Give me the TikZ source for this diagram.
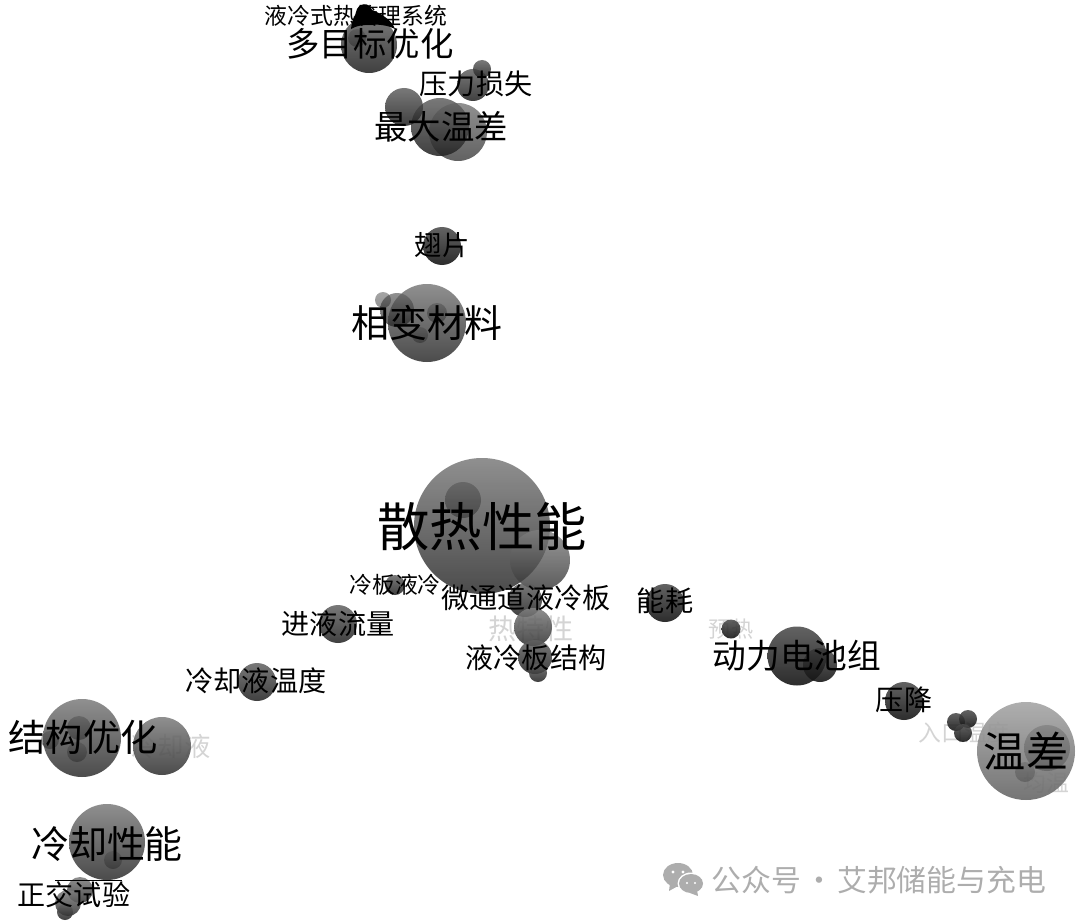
\documentclass[tikz,border=0pt]{standalone}
\usepackage{fontspec}
\newfontfamily\cjk{Noto Sans CJK SC}
\usepackage{tikz,pgf}
\tikzset{
	bubblelight/.style={circle,inner sep=0pt,top color=black!50,bottom color=black!80,opacity=.88},
	bubblemid/.style={circle,inner sep=0pt,top color=black!62,bottom color=black!88,opacity=.85},
	bubbledark/.style={circle,inner sep=0pt,top color=black!70,bottom color=black!94,opacity=.88},
	bubbleinner/.style={circle,inner sep=0pt,top color=black!70,bottom color=black!85,opacity=.5},
	termtext/.style={inner sep=0pt,font=\cjk\fontsize{#1}{#1}\selectfont,text=black},
	faintterm/.style={inner sep=0pt,font=\cjk\fontsize{#1}{#1}\selectfont,text=black!17}
}
\begin{document}
\begin{tikzpicture}
	\useasboundingbox (0,0) rectangle (10.8,9.23);
	% faint terms sit under the bubbles
	\node (ttherm) [faintterm=8] at (5.31,2.94) {热特性};
	\node (tpre)   [faintterm=6.3] at (7.31,2.94) {预热};
	\node (tin)    [faintterm=6.5] at (9.64,1.90) {入口温度};
	\node (tuni)   [faintterm=6.5] at (10.46,1.40) {均温};
	\node (tliq)   [faintterm=7.5] at (1.71,1.77) {冷却液};
	% top group
	\node (multi) [bubblemid,minimum size=.56cm] at (3.69,8.78) {};
	\node (multi2)[bubbleinner,minimum size=.18cm] at (3.57,8.85) {};
	\fill [black] (3.51,8.94) .. controls (3.52,9.05) and (3.56,9.08) .. (3.56,9.11) .. controls (3.58,9.21) and (3.70,9.21) .. (3.72,9.13) .. controls (3.80,9.10) and (3.92,9.03) .. (3.95,8.94) .. controls (3.85,9.00) and (3.60,9.00) .. (3.51,8.94) -- cycle;
	\node (loss2) [bubblemid,minimum size=.32cm] at (4.73,8.38) {};
	\node (loss1) [bubblemid,minimum size=.18cm] at (4.82,8.54) {};
	\node (maxa)  [bubblemid,minimum size=.58cm] at (4.40,7.96) {};
	\node (maxb)  [bubblemid,opacity=.7,minimum size=.58cm] at (4.58,7.91) {};
	\node (maxc)  [bubblemid,minimum size=.38cm] at (4.04,8.16) {};
	\node (fin)   [bubbledark,minimum size=.38cm] at (4.42,6.77) {};
	\node (pcm)   [bubblelight,minimum size=.78cm] at (4.27,6.00) {};
	\node (pcm2)  [bubblemid,opacity=.7,minimum size=.34cm] at (3.97,6.13) {};
	\node (pcm3)  [bubbleinner,minimum size=.16cm] at (3.83,6.23) {};
	\node (pcm4)  [bubbleinner,minimum size=.20cm] at (4.37,6.10) {};
	\node (pcm5)  [bubbleinner,minimum size=.16cm] at (4.20,5.88) {};
	% middle group
	\node (heat)  [bubblelight,minimum size=1.36cm] at (4.82,3.97) {};
	\node (heat2) [bubbleinner,minimum size=.36cm] at (4.63,4.23) {};
	\node (heat3) [bubblelight,opacity=.8,minimum size=.60cm] at (5.40,3.63) {};
	\node (micro) [bubblemid,minimum size=.34cm] at (5.25,3.23) {};
	\node (therm) [bubblelight,minimum size=.38cm] at (5.33,2.96) {};
	\node (plate) [bubblemid,minimum size=.34cm] at (5.35,2.66) {};
	\node (plate2)[bubblemid,minimum size=.18cm] at (5.38,2.50) {};
	\node (cold)  [bubblemid,minimum size=.20cm] at (3.95,3.38) {};
	\node (flow)  [bubblemid,minimum size=.38cm] at (3.38,2.99) {};
	\node (tcool) [bubblemid,minimum size=.38cm] at (2.57,2.41) {};
	% left group
	\node (opt)   [bubblelight,minimum size=.78cm] at (.82,1.85) {};
	\node (opt2)  [bubbleinner,minimum size=.24cm] at (.79,1.95) {};
	\node (opt3)  [bubbleinner,minimum size=.20cm] at (.77,1.71) {};
	\node (opt4)  [bubbleinner,minimum size=.18cm] at (.50,1.83) {};
	\node (liq)   [bubblelight,minimum size=.58cm] at (1.62,1.77) {};
	\node (perf)  [bubblelight,minimum size=.76cm] at (1.07,.81) {};
	\node (perf2) [bubbleinner,minimum size=.18cm] at (1.13,.63) {};
	\node (orth1) [bubblelight,minimum size=.26cm] at (.80,.33) {};
	\node (orth2) [bubblelight,minimum size=.26cm] at (.68,.20) {};
	\node (orth3) [bubblemid,minimum size=.16cm] at (.65,.11) {};
	% right group
	\node (energy)[bubbledark,minimum size=.38cm] at (6.65,3.20) {};
	\node (pre)   [bubbledark,minimum size=.19cm] at (7.31,2.94) {};
	\node (pack2) [bubbledark,minimum size=.34cm] at (8.20,2.58) {};
	\node (pack)  [bubbledark,minimum size=.59cm] at (7.97,2.67) {};
	\node (drop)  [bubbledark,minimum size=.38cm] at (9.04,2.22) {};
	\node (in1)   [bubbledark,minimum size=.18cm] at (9.56,2.01) {};
	\node (in2)   [bubbledark,minimum size=.18cm] at (9.68,2.04) {};
	\node (in3)   [bubbledark,minimum size=.18cm] at (9.63,1.90) {};
	\node (diff)  [circle,inner sep=0pt,top color=black!35,bottom color=black!60,opacity=.9,minimum size=.98cm] at (10.26,1.72) {};
	\node (diff2) [bubbleinner,opacity=.3,minimum size=.46cm] at (10.47,1.75) {};
	\node (diff3) [bubbleinner,opacity=.3,minimum size=.20cm] at (10.25,1.51) {};
	% terms
	\node (tsys)   [termtext=6.5] at (3.56,9.07) {液冷式热管理系统};
	\node (tmulti) [termtext=9.5] at (3.70,8.79) {多目标优化};
	\node (tloss)  [termtext=8] at (4.76,8.39) {压力损失};
	\node (tmax)   [termtext=9.5] at (4.41,7.96) {最大温差};
	\node (tfin)   [termtext=7.8] at (4.42,6.78) {翅片};
	\node (tpcm)   [termtext=10.8] at (4.27,6.00) {相变材料};
	\node (theat)  [termtext=14.9] at (4.82,3.96) {散热性能};
	\node (tcold)  [termtext=6.5] at (3.95,3.38) {冷板液冷};
	\node (tmicro) [termtext=8] at (5.26,3.25) {微通道液冷板};
	\node (tflow)  [termtext=8] at (3.38,2.99) {进液流量};
	\node (tplate) [termtext=8] at (5.36,2.65) {液冷板结构};
	\node (ttcool) [termtext=8] at (2.56,2.42) {冷却液温度};
	\node (tener)  [termtext=8] at (6.65,3.22) {能耗};
	\node (tpack)  [termtext=9.6] at (7.97,2.67) {动力电池组};
	\node (tdrop)  [termtext=8] at (9.04,2.23) {压降};
	\node (tdiff)  [termtext=12] at (10.26,1.72) {温差};
	\node (topt)   [termtext=10.6] at (.83,1.86) {结构优化};
	\node (tperf)  [termtext=10.8] at (1.07,.79) {冷却性能};
	\node (torth)  [termtext=8] at (.74,.28) {正交试验};
	\coordinate (rulea) at (.55,.425);
	\coordinate (ruleb) at (1.22,.425);
	\draw [line width=.5pt] (rulea) -- (ruleb);
	% watermark
	\fill [black!32] (6.78,.48) ellipse (.15 and .12);
	\fill [black!32] (6.70,.40) -- (6.69,.32) -- (6.78,.37) -- cycle;
	\fill [white] (6.91,.395) ellipse (.135 and .11);
	\fill [black!32] (6.91,.395) ellipse (.12 and .095);
	\fill [black!32] (6.97,.33) -- (6.98,.27) -- (6.90,.30) -- cycle;
	\fill [white] (6.73,.51) circle (.016) (6.83,.51) circle (.016) (6.87,.40) circle (.012) (6.95,.40) circle (.012);
	\node (mark) [inner sep=0pt,font=\cjk\fontsize{8.5}{8.5}\selectfont,text=black!32] at (8.79,.43) {公众号\hspace{.1em}·\hspace{.1em}艾邦储能与充电};
\end{tikzpicture}
\end{document}
